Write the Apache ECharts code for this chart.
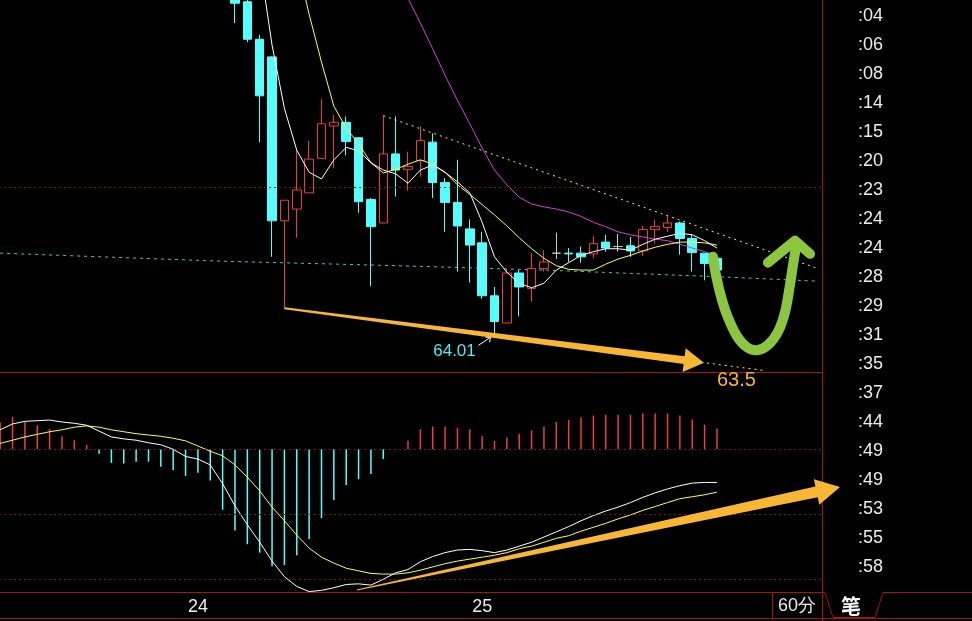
<!DOCTYPE html>
<html><head><meta charset="utf-8">
<script src="https://cdn.jsdelivr.net/npm/echarts@6/dist/echarts.min.js"></script>
<style>html,body{margin:0;padding:0;background:#000;}#c{width:972px;height:621px;}</style>
</head><body><div id="c"></div>
<script>
// ---------------- DATA ----------------
const N_CATS = 67;                 // 59 hourly bars + empty future slots
const dayLabels = ['24', '25'];
const dayLabelIndex = [16, 39];
const timeTicks = [':04', ':06', ':08', ':14', ':15', ':20', ':23', ':24', ':24', ':28',
                   ':29', ':31', ':35', ':37', ':44', ':49', ':49', ':53', ':55', ':58'];
const priceGridLevel = 66.0;
const macdGridLevels = [0, -0.1, -0.2];

// candles [open, close, low, high], starting at bar 19 (earlier bars are above the view)
const candleStart = 19;
const candleVals = [
  [68.82, 68.50, 68.23, 68.95], [68.52, 68.01, 67.97, 68.61], [68.01, 67.24, 66.61, 68.07],
  [67.77, 65.54, 65.05, 67.78], [65.54, 65.82, 64.35, 65.82], [65.70, 65.96, 65.31, 66.50],
  [65.92, 66.38, 65.92, 66.63], [66.39, 66.86, 66.38, 67.20], [66.83, 66.88, 66.26, 66.98],
  [66.88, 66.62, 66.43, 66.96], [66.67, 65.80, 65.65, 66.68], [65.83, 65.46, 64.65, 65.85],
  [65.51, 66.45, 65.51, 66.97], [66.45, 66.23, 65.87, 66.96], [66.24, 66.28, 65.95, 66.48],
  [66.36, 66.63, 66.14, 66.83], [66.61, 66.06, 65.85, 66.73], [66.06, 65.79, 65.39, 66.12],
  [65.79, 65.47, 64.85, 66.37], [65.43, 65.21, 64.70, 65.56], [65.24, 64.52, 64.48, 65.39],
  [64.52, 64.17, 64.01, 64.64], [64.15, 64.83, 64.15, 64.89], [64.83, 64.64, 64.24, 64.87],
  [64.62, 64.89, 64.44, 65.10], [64.89, 64.98, 64.85, 65.14], [65.10, 65.10, 65.02, 65.38],
  [65.10, 65.09, 64.98, 65.17], [65.10, 65.05, 64.97, 65.19], [65.09, 65.23, 65.03, 65.33],
  [65.25, 65.17, 65.12, 65.35], [65.19, 65.19, 65.12, 65.36], [65.20, 65.13, 65.05, 65.32],
  [65.13, 65.42, 65.06, 65.47], [65.42, 65.46, 65.23, 65.55], [65.45, 65.51, 65.39, 65.62],
  [65.51, 65.30, 65.08, 65.53], [65.30, 65.11, 64.85, 65.35], [65.10, 64.96, 64.73, 65.10],
  [65.03, 64.87, 64.80, 65.07]
];

const ma5Start = 20;
const ma5Vals = [70.50, 69.07, 67.93, 67.07, 66.50, 66.20, 66.11, 66.37, 66.54, 66.49,
  66.33, 66.23, 66.18, 66.05, 66.23, 66.30, 66.20, 66.07, 65.92, 65.52,
  65.05, 64.84, 64.69, 64.63, 64.69, 64.87, 64.97, 65.07, 65.12, 65.16,
  65.16, 65.14, 65.22, 65.29, 65.33, 65.37, 65.35, 65.27, 65.17];
const ma10Start = 23;
const ma10Vals = [69.77, 69.07, 68.35, 67.70, 67.10, 66.80, 66.59, 66.33, 66.19, 66.24,
  66.31, 66.37, 66.31, 66.20, 66.03, 65.90, 65.76, 65.62, 65.47, 65.31,
  65.16, 65.03, 64.93, 64.88, 64.87, 64.87, 64.95, 65.02, 65.07, 65.13,
  65.18, 65.22, 65.25, 65.25, 65.24, 65.21];
const ma20Start = 32;
const ma20Vals = [68.93, 68.57, 68.23, 67.88, 67.52, 67.18, 66.86, 66.53, 66.23, 66.03,
  65.86, 65.77, 65.73, 65.70, 65.66, 65.60, 65.52, 65.46, 65.39, 65.35,
  65.32, 65.29, 65.27, 65.22, 65.17, 65.12, 65.07];

// drawn lines on the price panel: [barIndex, price]
const cyanTrend = [[0, 65.10], [18, 64.99], [32, 64.93], [44, 64.87], [58, 64.78], [66, 64.72]];
const upperTrend = [[31, 66.97], [66, 64.90]];
const lowerTrend = [[23, 64.35], [62, 63.50]];

// MACD
const macdHist = [0.041, 0.050, 0.042, 0.037, 0.031, 0.020, 0.014, 0.007, -0.007, -0.021,
  -0.022, -0.019, -0.019, -0.027, -0.032, -0.041, -0.036, -0.048, -0.093, -0.125,
  -0.146, -0.159, -0.180, -0.178, -0.163, -0.138, -0.106, -0.078, -0.055, -0.046,
  -0.038, -0.015, -0.001, 0.013, 0.031, 0.035, 0.035, 0.033, 0.031, 0.020,
  0.013, 0.018, 0.024, 0.029, 0.035, 0.042, 0.045, 0.049, 0.052, 0.053,
  0.053, 0.053, 0.055, 0.055, 0.055, 0.052, 0.046, 0.038, 0.032];
const macdDif = [0.030, 0.039, 0.043, 0.044, 0.045, 0.042, 0.040, 0.037, 0.028, 0.019,
  0.016, 0.014, 0.010, 0.007, 0.000, -0.011, -0.015, -0.024, -0.053, -0.087,
  -0.116, -0.143, -0.172, -0.196, -0.211, -0.219, -0.217, -0.213, -0.208, -0.207,
  -0.209, -0.200, -0.190, -0.185, -0.173, -0.165, -0.159, -0.155, -0.154, -0.156,
  -0.159, -0.155, -0.149, -0.143, -0.135, -0.127, -0.119, -0.110, -0.102, -0.095,
  -0.089, -0.082, -0.074, -0.067, -0.061, -0.056, -0.052, -0.051, -0.051];
const macdDea = [0.009, 0.014, 0.019, 0.023, 0.027, 0.030, 0.034, 0.036, 0.034, 0.030,
  0.027, 0.024, 0.022, 0.020, 0.017, 0.013, 0.005, -0.003, -0.010, -0.024,
  -0.043, -0.064, -0.089, -0.110, -0.132, -0.152, -0.166, -0.175, -0.183, -0.187,
  -0.191, -0.192, -0.192, -0.190, -0.186, -0.181, -0.176, -0.172, -0.169, -0.166,
  -0.163, -0.159, -0.153, -0.149, -0.143, -0.137, -0.133, -0.126, -0.120, -0.114,
  -0.107, -0.101, -0.094, -0.088, -0.082, -0.076, -0.073, -0.070, -0.066];

// hand-drawn annotations, in [barIndex, price] / [barIndex, macd] coordinates
const lowLabel = {idx: 40, price: 64.01, text: '64.01'};
const targetLabel = {idx: 62, price: 63.50, text: '63.5'};
const priceArrow = {from: [23, 64.35], to: [56.95, 63.61]};
const macdArrow = {from: [28.87, -0.2165], to: [67.96, -0.058]};
const greenStroke = [[57.68, 65.05], [57.92, 64.80], [58.41, 64.46], [58.90, 64.22], [59.62, 63.97],
  [60.43, 63.82], [61.24, 63.78], [62.13, 63.85], [62.94, 64.03], [63.51, 64.30],
  [63.91, 64.67], [64.24, 65.03], [64.48, 65.24]];
const greenHead = [[62.13, 64.97], [64.32, 65.27], [65.53, 65.09]];

// ---------------- BUILD ----------------
const pad = (start, vals) => Array.from({length: start}, () => null).concat(vals);
const cats = Array.from({length: N_CATS}, (_, i) => 'b' + i);
const candleData = pad(candleStart, candleVals).map(v => v ? v : ['-', '-', '-', '-']);

const RED = '#a81212';
const GRIDRED = '#7a1616';
const FONT = '"Liberation Sans", Arial, sans-serif';

const chart = echarts.init(document.getElementById('c'), null, {renderer: 'canvas'});
const line = (data, color, extra) => Object.assign({
  type: 'line', xAxisIndex: 0, yAxisIndex: 0, data, symbol: 'none', showSymbol: false,
  clip: true, silent: true, lineStyle: {color, width: 1}, z: 3
}, extra || {});

const option = {
  backgroundColor: '#000',
  animation: false,
  textStyle: {fontFamily: FONT},
  grid: [
    {left: -6, width: 828, top: 0, height: 372, outerBoundsMode: 'none', containLabel: false},
    {left: -6, width: 828, top: 372, height: 221, outerBoundsMode: 'none', containLabel: false}
  ],
  xAxis: [
    {type: 'category', gridIndex: 0, data: cats, boundaryGap: true,
     axisLine: {show: false}, axisTick: {show: false}, axisLabel: {show: false}, splitLine: {show: false}},
    {type: 'category', gridIndex: 1, data: cats, boundaryGap: true,
     axisLine: {show: false}, axisTick: {show: false}, splitLine: {show: false},
     axisLabel: {show: true, interval: 0, margin: 5, color: '#ececec', fontSize: 18, fontFamily: FONT,
       formatter: (v, i) => { const k = dayLabelIndex.indexOf(i); return k >= 0 ? dayLabels[k] : ''; }}}
  ],
  yAxis: [
    {type: 'value', gridIndex: 0, min: 63.483, max: 68.544, show: false, splitLine: {show: false}},
    {type: 'value', gridIndex: 1, min: -0.2211, max: 0.1189, show: false, splitLine: {show: false}}
  ],
  series: [
    {type: 'candlestick', xAxisIndex: 0, yAxisIndex: 0, data: candleData, barWidth: 9, clip: true, silent: true,
     itemStyle: {color: '#000', color0: '#54ffff', borderColor: '#f03c3c', borderColor0: '#54ffff',
                 borderColorDoji: '#c8c8c8', borderWidth: 1},
     markLine: {silent: true, symbol: 'none', label: {show: false},
       lineStyle: {color: GRIDRED, type: [2, 3], width: 1}, data: [{yAxis: priceGridLevel}]}, z: 2},
    line(cyanTrend, '#3cc8c8', {lineStyle: {color: '#3cc8c8', width: 1, type: [3, 4]}, z: 1}),
    line(upperTrend, '#f0f070', {lineStyle: {color: '#f0f070', width: 1, type: [2, 4]}}),
    line(lowerTrend, '#f0f070', {lineStyle: {color: '#f0f070', width: 1, type: [2, 4]}}),
    line(pad(ma20Start, ma20Vals), '#d83cd8'),
    line(pad(ma10Start, ma10Vals), '#ffff3c'),
    line(pad(ma5Start, ma5Vals), '#ffffff'),
    {type: 'bar', xAxisIndex: 1, yAxisIndex: 1, data: macdHist, barWidth: 1.5, silent: true,
     itemStyle: {color: p => p.value >= 0 ? '#f03c3c' : '#54ffff'},
     markLine: {silent: true, symbol: 'none', label: {show: false},
       lineStyle: {color: GRIDRED, type: [2, 3], width: 1}, data: macdGridLevels.map(v => ({yAxis: v}))}},
    {type: 'line', xAxisIndex: 1, yAxisIndex: 1, data: macdDea, symbol: 'none', silent: true,
     lineStyle: {color: '#ffff3c', width: 1}, z: 3},
    {type: 'line', xAxisIndex: 1, yAxisIndex: 1, data: macdDif, symbol: 'none', silent: true,
     lineStyle: {color: '#ffffff', width: 1}, z: 3}
  ]
};
chart.setOption(option);

// ---------------- ANNOTATIONS & FRAME ----------------
const xA = chart.convertToPixel({xAxisIndex: 0}, 0);
const xB = chart.convertToPixel({xAxisIndex: 0}, 1);
const X = i => xA + i * (xB - xA);
const YP = p => chart.convertToPixel({yAxisIndex: 0}, p);
const YM = v => chart.convertToPixel({yAxisIndex: 1}, v);

function arrowPoly(S, T, w0, w1, headLen, headW) {
  const dx = T[0] - S[0], dy = T[1] - S[1], L = Math.hypot(dx, dy);
  const ux = dx / L, uy = dy / L, nx = -uy, ny = ux;
  const B = [T[0] - ux * headLen, T[1] - uy * headLen];
  return [[S[0] + nx * w0 / 2, S[1] + ny * w0 / 2], [B[0] + nx * w1 / 2, B[1] + ny * w1 / 2],
          [B[0] + nx * headW / 2, B[1] + ny * headW / 2], T,
          [B[0] - nx * headW / 2, B[1] - ny * headW / 2], [B[0] - nx * w1 / 2, B[1] - ny * w1 / 2],
          [S[0] - nx * w0 / 2, S[1] - ny * w0 / 2]];
}
const txt = (x, y, text, fill, font, align) => ({type: 'text', x, y, silent: true, z: 100,
  style: {text, fill, font, textAlign: align || 'left', align: align || 'left',
          textVerticalAlign: 'middle', verticalAlign: 'middle'}});
const seg = (x1, y1, x2, y2, color) => ({type: 'line', silent: true, z: 90,
  shape: {x1, y1, x2, y2}, style: {stroke: color || RED, lineWidth: 1}});

const g = [];
// frame
g.push(seg(822.5, 0, 822.5, 621));
g.push(seg(0, 372.5, 822, 372.5));
g.push(seg(0, 592.5, 825, 592.5));
g.push(seg(883, 592.5, 972, 592.5));
g.push(seg(0, 618.5, 972, 618.5));
g.push(seg(772.5, 592.5, 772.5, 618.5));
g.push({type: 'polyline', silent: true, z: 90, shape: {points: [[825, 592.5], [833, 617.5], [875, 617.5], [883, 592.5]]},
        style: {stroke: RED, fill: null, lineWidth: 1}});
g.push(txt(797, 606, '60分', '#ececec', '18px ' + FONT, 'center'));
g.push(txt(851, 606, '笔', '#f4f4f4', 'bold 20px "Noto Sans CJK SC", sans-serif', 'center'));
// tick time list
timeTicks.forEach((t, k) => g.push(txt(858, 16.5 + 29 * k, t, '#ececec', '18px ' + FONT)));

// orange arrows
const pS = [X(priceArrow.from[0]), YP(priceArrow.from[1])];
const pT = [X(priceArrow.to[0]), YP(priceArrow.to[1])];
g.push({type: 'polygon', silent: true, z: 95, shape: {points: arrowPoly(pS, pT, 2, 8, 20, 24)},
        style: {fill: '#f8b733'}});
const mS = [X(macdArrow.from[0]), YM(macdArrow.from[1])];
const mT = [X(macdArrow.to[0]), YM(macdArrow.to[1])];
g.push({type: 'polygon', silent: true, z: 95, shape: {points: arrowPoly(mS, mT, 1, 11, 24, 26)},
        style: {fill: '#f8b733'}});

// green hand-drawn U arrow
const gp = greenStroke.map(p => [X(p[0]), YP(p[1])]);
g.push({type: 'polyline', silent: true, z: 96, shape: {points: gp, smooth: 0.35},
        style: {stroke: '#8cc63e', lineWidth: 10, lineCap: 'round', lineJoin: 'round', fill: null}});
const gh = greenHead.map(p => [X(p[0]), YP(p[1])]);
g.push({type: 'polyline', silent: true, z: 96, shape: {points: gh},
        style: {stroke: '#8cc63e', lineWidth: 10, lineCap: 'round', lineJoin: 'round', fill: null}});

// low label
const lx = X(lowLabel.idx), ly = YP(lowLabel.price);
g.push(txt(lx - 40, ly + 18, lowLabel.text, '#54e8f0', '17px ' + FONT, 'center'));
g.push(seg(lx - 16, ly + 12, lx - 4, ly + 4, '#ffffff'));
g.push({type: 'polyline', silent: true, z: 92, shape: {points: [[lx - 9, ly + 4], [lx - 4, ly + 4], [lx - 5, ly + 9]]},
        style: {stroke: '#ffffff', lineWidth: 1, fill: null}});
// target label
const tx = X(targetLabel.idx), ty = YP(targetLabel.price);
g.push(txt(tx - 30, ty + 10, targetLabel.text, '#f5b53a', '20px ' + FONT, 'center'));

chart.setOption({graphic: {elements: g}});
</script>
</body></html>
